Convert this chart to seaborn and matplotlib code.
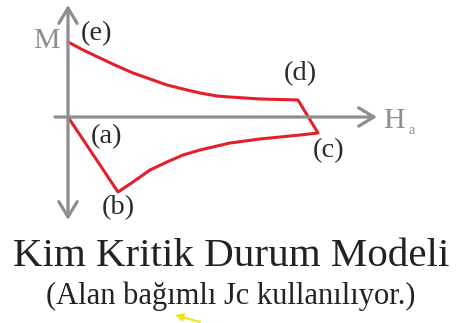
import matplotlib
matplotlib.use("Agg")
import matplotlib.pyplot as plt
import seaborn as sns
import pandas as pd

# Magnetisation loop of the Kim critical-state model (field dependent Jc)
# applied field H_a and magnetisation M, arbitrary units
# (a) -> (b) -> (c): virgin branch, (c) -> (d) -> (e): field decreasing
branch_H = [0, 50, 65, 82, 99, 115, 132, 149, 162, 192, 232, 250,
            230, 192, 162, 149, 132, 115, 99, 82, 65, 49, 32, 15, 0]
branch_M = [0, -75, -65, -53, -45, -38, -33, -29, -26, -22, -18, -16,
            17, 18, 20, 21, 24, 28, 32, 38, 44, 51, 59, 67, 75]
point_labels = ["(a)", "(b)", "(c)", "(d)", "(e)"]

title = "Kim Kritik Durum Modeli"
subtitle = "(Alan bağımlı Jc kullanılıyor.)"

sns.set_theme(style="white")
plt.rcParams["font.family"] = ["Liberation Serif", "DejaVu Serif"]

fig = plt.figure(figsize=(4.58, 3.23), dpi=100)
ax = fig.add_axes([0, 0, 1, 1])
ax.set_xlim(-68, 390)
ax.set_ylim(-206, 117)
ax.set_axis_off()

axis_grey = "#8e8e8e"
arrow_kw = dict(color=axis_grey, lw=2.3, shrinkA=0, shrinkB=0,
                mutation_scale=20)
# vertical M axis (arrows at both ends)
ax.annotate("", xy=(0, 112), xytext=(0, -103),
            arrowprops=dict(arrowstyle="<->,head_length=0.55,head_width=0.33",
                            **arrow_kw))
# horizontal H_a axis
ax.annotate("", xy=(309, 0), xytext=(-13, 0),
            arrowprops=dict(arrowstyle="->,head_length=0.55,head_width=0.33",
                            **arrow_kw))

df = pd.DataFrame({"H": branch_H, "M": branch_M})
sns.lineplot(data=df, x="H", y="M", sort=False, estimator=None,
             color="#e3202a", lw=2.2, ax=ax)
ax.set_xlabel("")
ax.set_ylabel("")

ax.text(-22, 76, "M", fontsize=21.5, color=axis_grey, ha="center", va="center")
ax.text(326, -4, "H", fontsize=21.5, color=axis_grey, ha="center", va="center")
ax.text(344, -13, "a", fontsize=10, color=axis_grey, ha="center", va="center")

label_pos = [(39, -20), (50, -91), (261, -34), (232, 43), (29, 83)]
for lab, (x, y) in zip(point_labels, label_pos):
    ax.text(x, y, lab, fontsize=20.5, color="#2a2a2a", ha="center", va="center")

ax.text(163, -140, title, fontsize=29.5, color="#222222", ha="center", va="center")
ax.text(163, -179, subtitle, fontsize=22, color="#222222", ha="center",
        va="center")

# small yellow pen stroke under the subtitle
ax.annotate("", xy=(107, -198), xytext=(132, -205),
            arrowprops=dict(arrowstyle="-|>,head_length=0.3,head_width=0.15",
                            color="#f2e21a", lw=1.5, shrinkA=0, shrinkB=0,
                            mutation_scale=15))

fig.savefig("out.png", dpi=100)
